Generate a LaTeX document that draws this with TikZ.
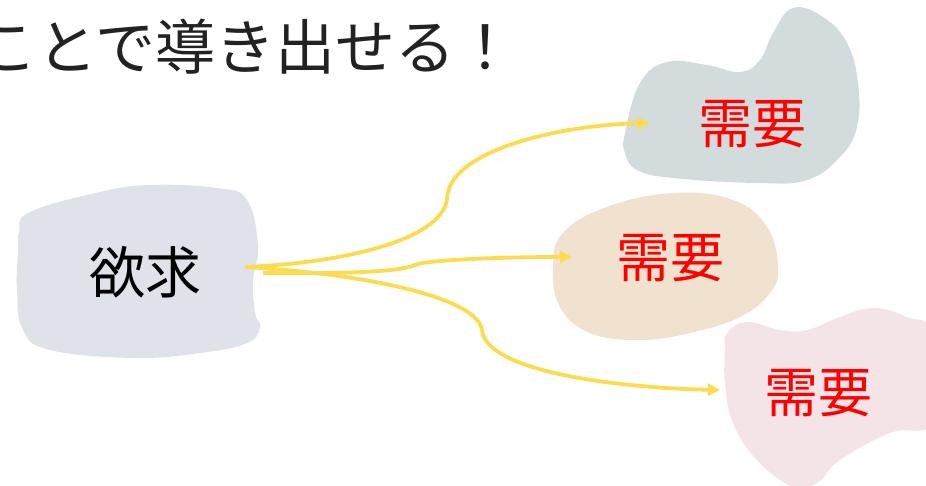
\documentclass[tikz,border=0pt]{standalone}
\usepackage{fontspec}
\newfontfamily\jpfont{Noto Sans CJK JP}
\usetikzlibrary{arrows.meta}
\definecolor{blobgray}{HTML}{DFE2E9}
\definecolor{blobblue}{HTML}{D2DCDC}
\definecolor{blobbeige}{HTML}{F0E2CF}
\definecolor{blobpink}{HTML}{F5E4E7}
\definecolor{arrowyellow}{HTML}{FCDB4F}
\definecolor{needred}{HTML}{FF0000}
\definecolor{titlegray}{HTML}{222222}
\tikzset{
  wantlabel/.style={font=\jpfont\fontsize{56}{60}\selectfont, text=black, inner sep=0pt},
  needlabel/.style={font=\jpfont\fontsize{54}{58}\selectfont, text=needred, inner sep=0pt},
  flow/.style={draw=arrowyellow, line width=3.8pt, -{Triangle[length=12pt,width=12pt]}},
}
\begin{document}
\begin{tikzpicture}[x=1pt,y=-1pt]
\path[use as bounding box, clip] (0,0) rectangle (926,486);
\fill[white] (0,0) rectangle (926,486);
% blobs
\fill[blobgray] plot[smooth cycle, tension=0.7] coordinates {(19,232) (30,212) (100,192) (150,185) (217,188) (247,200) (258,247) (253,280) (255,313) (260,327) (247,343) (200,353) (133,358) (50,350) (23,330) (17,290) (18,250)};
\fill[blobblue] plot[smooth cycle, tension=0.7] coordinates {(625,133) (640,83) (667,62) (707,65) (740,72) (760,60) (773,33) (793,8) (823,17) (847,43) (858,83) (857,127) (840,157) (807,180) (757,183) (673,178) (637,170) (625,153)};
\fill[blobbeige] plot[smooth cycle, tension=0.7] coordinates {(553,267) (563,233) (607,207) (673,193) (733,200) (767,227) (778,267) (770,293) (740,317) (690,333) (640,340) (590,333) (560,307)};
\fill[blobpink] plot[smooth cycle, tension=0.7] coordinates {(727,333) (747,322) (780,330) (807,330) (840,317) (873,308) (907,317) (935,335) (940,420) (923,430) (890,433) (840,460) (817,483) (793,487) (757,460) (733,423) (725,383) (725,350)};
% title
\node[anchor=base west, inner sep=0pt, font=\jpfont\fontsize{60}{64}\selectfont, text=titlegray] (title) at (-23,70) {ことで導き出せる！};
% labels
\node[wantlabel] (want) at (145,272) {欲求};
\node[needlabel] (need1) at (752,124) {需要};
\node[needlabel] (need2) at (670,258) {需要};
\node[needlabel] (need3) at (818,393) {需要};
% connector ends
\coordinate (s1) at (245,267);
\coordinate (s2) at (263,273);
\coordinate (t1) at (650,123);
\coordinate (t2) at (572,257);
\coordinate (t3) at (720,390);
% arrows
\draw[flow] (s1) .. controls (360,262) and (445,235) .. (447,198) .. controls (450,150) and (560,125) .. (t1);
\draw[flow] (s2) .. controls (340,274) and (400,272) .. (415,265) .. controls (425,260) and (500,257) .. (t2);
\draw[flow] (s1) .. controls (380,275) and (478,300) .. (482,330) .. controls (486,372) and (620,388) .. (t3);
\end{tikzpicture}
\end{document}
